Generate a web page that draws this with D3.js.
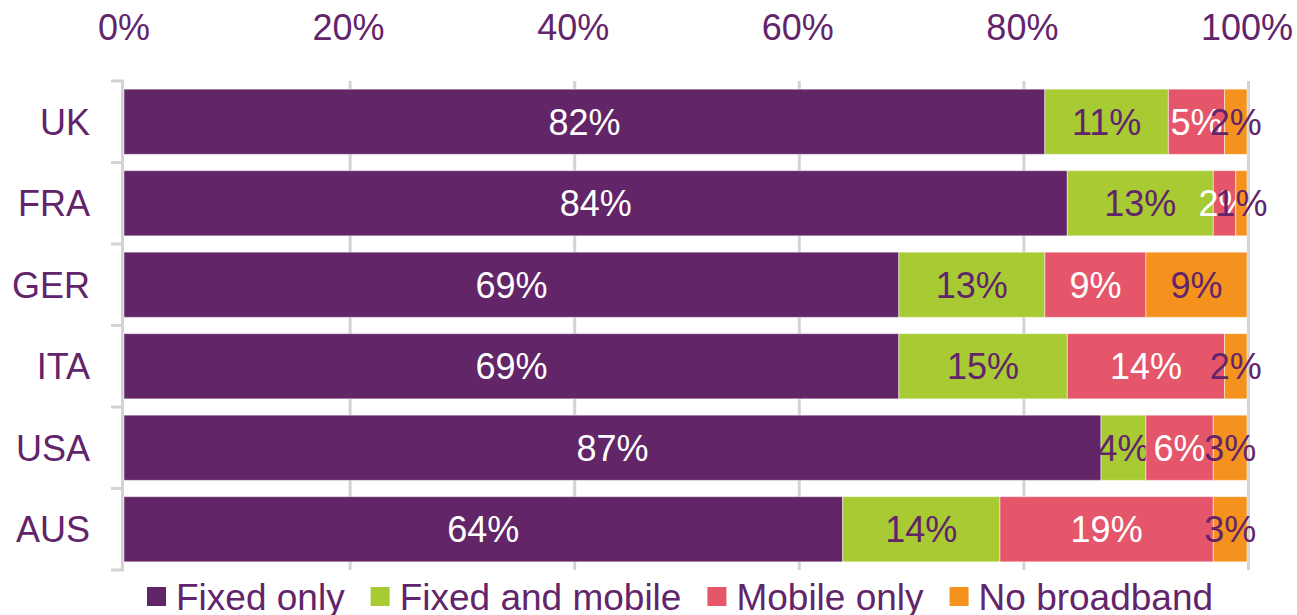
<!DOCTYPE html>
<html>
<head>
<meta charset="utf-8">
<script src="https://cdn.jsdelivr.net/npm/d3@7"></script>
<style>
  body { margin: 0; background: #fff; }
  text { font-family: "Liberation Sans", Arial, sans-serif; }
</style>
</head>
<body>
<div id="chart"></div>
<script>
// Broadband access by country

var countries = ['UK', 'FRA', 'GER', 'ITA', 'USA', 'AUS']
var seriesNames = ['Fixed only', 'Fixed and mobile', 'Mobile only', 'No broadband']
var fixedOnly = [82, 84, 69, 69, 87, 64]
var fixedAndMobile = [11, 13, 13, 15, 4, 14]
var mobileOnly = [5, 2, 9, 14, 6, 19]
var noBroadband = [2, 1, 9, 2, 3, 3]
var tickValues = [0, 0.2, 0.4, 0.6, 0.8, 1]

var colors = ['#622567', '#A8CB34', '#E5566A', '#F5921E']
var labelColors = ['#ffffff', '#62246A', '#ffffff', '#62246A']
var textColor = '#62246A'
var gridColor = '#D3D3D3'

var width = 1297, height = 615

var svg = d3.select('#chart')
  .append('svg')
  .attr('width', width)
  .attr('height', height)

var x = d3.scaleLinear().domain([0, 1]).range([124, 1247])
var y = d3.scaleBand().domain(countries).range([81, 570]).paddingInner(0.2).paddingOuter(0.1)

// table for the stack
var rows = countries.map(function (c, i) {
  return {
    country: c,
    'Fixed only': fixedOnly[i] / 100,
    'Fixed and mobile': fixedAndMobile[i] / 100,
    'Mobile only': mobileOnly[i] / 100,
    'No broadband': noBroadband[i] / 100,
  }
})
var stacked = d3.stack().keys(seriesNames)(rows)

// gridlines
svg.selectAll('line.grid')
  .data(tickValues.slice(1))
  .enter()
  .append('line')
    .attr('class', 'grid')
    .attr('x1', (d) => x(d) + 1.5)
    .attr('x2', (d) => x(d) + 1.5)
    .attr('y1', y.range()[0])
    .attr('y2', y.range()[1])
    .attr('stroke', gridColor)
    .attr('stroke-width', 3)

// left axis line and ticks at band boundaries
svg.append('line')
  .attr('x1', x(0) - 1.5).attr('x2', x(0) - 1.5)
  .attr('y1', y.range()[0]).attr('y2', y.range()[1])
  .attr('stroke', gridColor).attr('stroke-width', 3)

var boundaries = d3.range(countries.length + 1).map((i) => y.range()[0] + i * y.step())
svg.selectAll('line.ytick')
  .data(boundaries)
  .enter()
  .append('line')
    .attr('class', 'ytick')
    .attr('x1', x(0) - 13).attr('x2', x(0))
    .attr('y1', (d) => d).attr('y2', (d) => d)
    .attr('stroke', gridColor).attr('stroke-width', 3)

// top tick labels
svg.selectAll('text.xlabel')
  .data(tickValues)
  .enter()
  .append('text')
    .attr('class', 'xlabel')
    .attr('x', (d) => x(d))
    .attr('y', 40)
    .attr('text-anchor', 'middle')
    .attr('font-size', 36)
    .attr('fill', textColor)
    .text((d) => Math.round(d * 100) + '%')

// category labels
svg.selectAll('text.ylabel')
  .data(countries)
  .enter()
  .append('text')
    .attr('class', 'ylabel')
    .attr('x', 90)
    .attr('y', (d) => y(d) + y.bandwidth() / 2)
    .attr('dy', '0.36em')
    .attr('text-anchor', 'end')
    .attr('font-size', 36)
    .attr('fill', textColor)
    .text((d) => d)

// bars
var layers = svg.selectAll('g.layer')
  .data(stacked)
  .enter()
  .append('g')
    .attr('class', 'layer')

layers.selectAll('rect')
  .data((d) => d)
  .enter()
  .append('rect')
    .attr('x', (d) => x(d[0]))
    .attr('y', (d) => y(d.data.country))
    .attr('width', (d) => x(d[1]) - x(d[0]))
    .attr('height', y.bandwidth())
    .attr('fill', function (d) { return colors[d3.select(this.parentNode).datum().index] })
    .attr('stroke', '#ffffff')
    .attr('stroke-opacity', 0.5)
    .attr('stroke-width', 1)

// bar labels
layers.selectAll('text')
  .data((d) => d)
  .enter()
  .append('text')
    .attr('x', (d) => (x(d[0]) + x(d[1])) / 2)
    .attr('y', (d) => y(d.data.country) + y.bandwidth() / 2)
    .attr('dy', '0.36em')
    .attr('text-anchor', 'middle')
    .attr('font-size', 36)
    .attr('fill', function (d) { return labelColors[d3.select(this.parentNode).datum().index] })
    .text((d) => Math.round((d[1] - d[0]) * 100) + '%')

// legend
var legend = svg.append('g').attr('transform', 'translate(147, 597)')
var lx = 0
seriesNames.forEach(function (name, i) {
  var item = legend.append('g').attr('transform', 'translate(' + lx + ', 0)')
  item.append('rect')
    .attr('x', 0).attr('y', -10)
    .attr('width', 19).attr('height', 19)
    .attr('fill', colors[i])
  var t = item.append('text')
    .attr('x', 29)
    .attr('y', 0)
    .attr('dy', '0.36em')
    .attr('font-size', 37)
    .attr('fill', textColor)
    .text(name)
  lx += 29 + t.node().getComputedTextLength() + 26
})
</script>
</body>
</html>
